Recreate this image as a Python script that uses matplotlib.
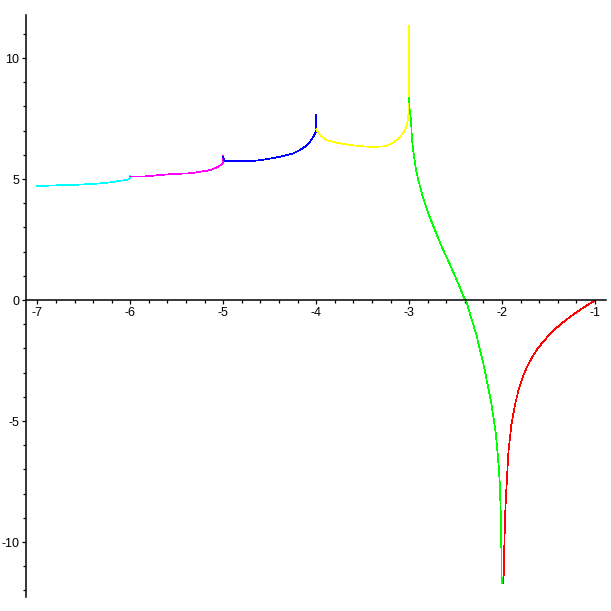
import matplotlib
matplotlib.use("Agg")
import matplotlib.pyplot as plt
from matplotlib.ticker import MultipleLocator, FormatStrFormatter

# Pieces of the curve, one colour per unit interval
cyan_x = [-7.0, -6.8, -6.6, -6.45, -6.325, -6.2, -6.13, -6.05, -6.02, -6.005, -6.0]
cyan_y = [4.71, 4.74, 4.76, 4.79, 4.82, 4.87, 4.92, 4.96, 4.99, 5.03, 5.14]

magenta_x = [-6.0, -5.877, -5.669, -5.537, -5.357, -5.25, -5.14, -5.07, -5.027, -5.005, -5.0]
magenta_y = [5.10, 5.10, 5.17, 5.21, 5.24, 5.30, 5.37, 5.48, 5.58, 5.67, 5.95]

blue_x = [-5.0, -4.99, -4.9, -4.71, -4.58, -4.39, -4.245, -4.174, -4.12, -4.066, -4.03, -4.005, -4.0]
blue_y = [5.92, 5.76, 5.74, 5.74, 5.79, 5.92, 6.06, 6.20, 6.34, 6.54, 6.75, 6.95, 7.64]

yellow_x = [-4.0, -3.983, -3.94, -3.886, -3.779, -3.671, -3.528, -3.367, -3.259, -3.173,
            -3.098, -3.044, -3.02, -3.008, -3.003, -3.0]
yellow_y = [7.05, 6.95, 6.75, 6.61, 6.50, 6.43, 6.36, 6.32, 6.36, 6.49,
            6.74, 7.02, 7.3, 7.7, 8.4, 11.35]

green_x = [-3.0, -2.995, -2.980, -2.969, -2.947, -2.926, -2.901, -2.854, -2.794, -2.722,
           -2.649, -2.567, -2.488, -2.406, -2.388, -2.337, -2.280, -2.237, -2.194, -2.159,
           -2.122, -2.094, -2.068, -2.051, -2.036, -2.025, -2.019, -2.013, -2.010, -2.007,
           -2.004]
green_y = [8.35, 7.9, 7.44, 6.61, 5.92, 5.37, 4.96, 4.27, 3.58, 2.89,
           2.20, 1.52, 0.83, 0.07, 0.0, -0.69, -1.38, -2.07, -2.76, -3.44,
           -4.13, -4.82, -5.51, -6.20, -6.89, -7.57, -8.26, -8.95, -9.64, -10.47,
           -11.71]

red_x = [-1.985, -1.977, -1.967, -1.960, -1.932, -1.90, -1.86, -1.82, -1.78, -1.73,
         -1.68, -1.62, -1.549, -1.484, -1.45, -1.412, -1.36, -1.305, -1.25, -1.197,
         -1.14, -1.089, -1.04, -1.0]
red_y = [-11.71, -10.33, -8.88, -8.26, -6.28, -5.15, -4.30, -3.68, -3.20, -2.75,
         -2.38, -2.02, -1.68, -1.41, -1.28, -1.14, -0.97, -0.80, -0.645, -0.50,
         -0.35, -0.225, -0.11, -0.02]

pieces = [
    (cyan_x, cyan_y, "#00ffff"),
    (magenta_x, magenta_y, "#ff00ff"),
    (blue_x, blue_y, "#0000ff"),
    (yellow_x, yellow_y, "#ffff00"),
    (green_x, green_y, "#00ff00"),
    (red_x, red_y, "#ff0000"),
]

plt.rcParams["font.family"] = ["Liberation Sans", "DejaVu Sans"]
plt.rcParams["axes.unicode_minus"] = False

fig = plt.figure(figsize=(6.11, 6.11), dpi=100)
ax = fig.add_axes([26 / 611, 14 / 611, 580 / 611, 582 / 611])

for xs, ys, colour in pieces:
    ax.plot(xs, ys, color=colour, linewidth=0.5, antialiased=False)

ax.set_xlim(-7.122, -0.882)
ax.set_ylim(-12.27, 11.78)

# Maple-style axes: x axis through y=0, y axis on the left edge
ax.spines["top"].set_visible(False)
ax.spines["right"].set_visible(False)
ax.spines["bottom"].set_position(("data", 0))
ax.spines["bottom"].set_linewidth(1.1)
ax.spines["left"].set_linewidth(1.1)

ax.xaxis.set_major_locator(MultipleLocator(1))
ax.xaxis.set_minor_locator(MultipleLocator(0.2))
ax.yaxis.set_major_locator(MultipleLocator(5))
ax.yaxis.set_minor_locator(MultipleLocator(1))
ax.xaxis.set_major_formatter(FormatStrFormatter("%d"))
ax.yaxis.set_major_formatter(FormatStrFormatter("%d"))

ax.tick_params(which="major", direction="out", length=3.2, width=0.9,
               labelsize=9, pad=1.5, colors="black")
ax.tick_params(which="minor", direction="out", length=2.0, width=0.9)

fig.savefig("out.png", dpi=100, facecolor="white")
